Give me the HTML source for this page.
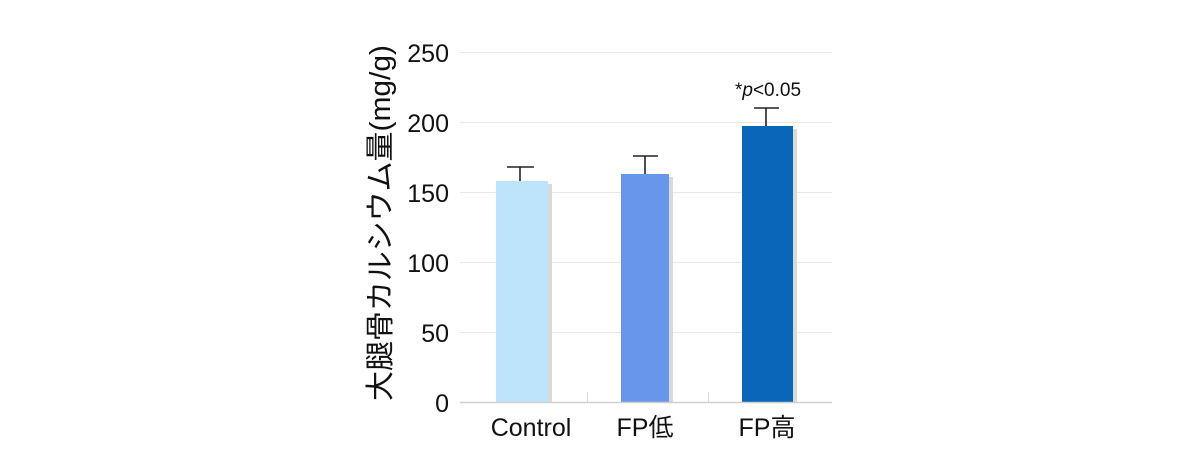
<!DOCTYPE html>
<html><head><meta charset="utf-8"><style>
body{margin:0;background:#fff;}
svg text{font-family:"Liberation Sans","Noto Sans CJK JP",sans-serif;fill:#111;}
</style></head><body>
<svg width="1200" height="470" xmlns="http://www.w3.org/2000/svg">
<g stroke="#e8e8e8" stroke-width="1">
<line x1="460" x2="832" y1="52.5" y2="52.5"/>
<line x1="460" x2="832" y1="122.5" y2="122.5"/>
<line x1="460" x2="832" y1="192.5" y2="192.5"/>
<line x1="460" x2="832" y1="262.5" y2="262.5"/>
<line x1="460" x2="832" y1="332.5" y2="332.5"/>
</g>
<g stroke="#d8d8d8" stroke-width="1">
<line x1="587.5" x2="587.5" y1="392" y2="402"/>
<line x1="708.5" x2="708.5" y1="392" y2="402"/>
</g>
<g fill="#d9d9d9">
<rect x="500" y="184" width="52" height="219"/>
<rect x="625" y="177" width="48" height="226"/>
<rect x="746" y="129" width="51" height="274"/>
</g>
<rect x="496" y="181" width="52" height="221" fill="#bde4fb"/>
<rect x="621" y="174" width="48" height="228" fill="#6796ea"/>
<rect x="742" y="126" width="51" height="276" fill="#0a66b8"/>
<line x1="460" x2="832" y1="402.5" y2="402.5" stroke="#cfcfcf" stroke-width="1.5"/>
<g stroke="#222" stroke-width="1.6">
<line x1="520" x2="520" y1="167" y2="181"/><line x1="507" x2="534" y1="167" y2="167"/>
<line x1="645" x2="645" y1="156" y2="174"/><line x1="633" x2="658" y1="156" y2="156"/>
<line x1="766" x2="766" y1="108" y2="126"/><line x1="754" x2="779" y1="108" y2="108"/>
</g>
<g font-size="25" text-anchor="end">
<text x="449" y="62">250</text>
<text x="449" y="132">200</text>
<text x="449" y="202">150</text>
<text x="449" y="272">100</text>
<text x="449" y="342">50</text>
<text x="449" y="412">0</text>
</g>
<g font-size="25" text-anchor="middle">
<text x="531" y="436">Control</text>
<text x="645" y="436">FP低</text>
<text x="767" y="436">FP高</text>
</g>
<text x="768" y="96" font-size="19" text-anchor="middle">*<tspan font-style="italic">p</tspan>&lt;0.05</text>
<text transform="translate(390,223) rotate(-90)" font-size="29" text-anchor="middle" textLength="356" lengthAdjust="spacingAndGlyphs">大腿骨カルシウム量(mg/g)</text>
</svg>
</body></html>
